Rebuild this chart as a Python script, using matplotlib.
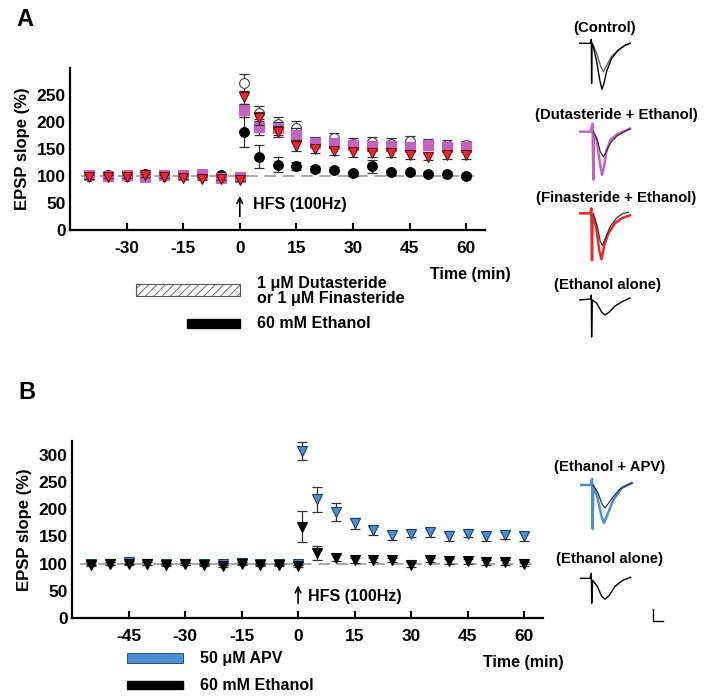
import matplotlib
matplotlib.use('Agg')
import matplotlib.pyplot as plt
from matplotlib.patches import Rectangle

plt.rcParams['font.family'] = ['Liberation Sans', 'DejaVu Sans']
plt.rcParams['font.weight'] = 'bold'
plt.rcParams['axes.unicode_minus'] = False
plt.rcParams['hatch.linewidth'] = 0.6

# ---- Panel A data (time in min, EPSP slope in %) ----
time_a = [-40, -35, -30, -25, -20, -15, -10, -5, 0,
          1, 5, 10, 15, 20, 25, 30, 35, 40, 45, 50, 55, 60]
control_a = [100, 100, 100, 101, 100, 101, 101, 100, 99,
             272, 216, 196, 189, 163, 170, 160, 163, 160, 165, 160, 158, 157]
control_err = [3, 3, 3, 3, 3, 3, 3, 3, 3,
               17, 14, 13, 12, 10, 10, 10, 9, 10, 9, 8, 8, 8]
ethanol_a = [100, 101, 100, 104, 101, 102, 101, 101, 98,
             182, 136, 121, 119, 113, 112, 105, 118, 107, 107, 104, 104, 100]
ethanol_a_err = [3, 3, 3, 3, 3, 3, 3, 3, 3,
                 28, 21, 14, 7, 6, 5, 5, 12, 5, 4, 4, 4, 4]
dutasteride = [101, 100, 101, 99, 101, 101, 103, 97, 98,
               222, 190, 188, 176, 161, 161, 157, 156, 156, 154, 157, 154, 154]
dutasteride_err = [3, 3, 3, 3, 3, 3, 3, 3, 3,
                   12, 15, 12, 12, 10, 10, 9, 9, 8, 8, 8, 8, 8]
finasteride = [98, 99, 99, 101, 99, 97, 95, 95, 93,
               246, 207, 182, 156, 150, 146, 144, 142, 142, 139, 136, 139, 138]
finasteride_err = [3, 3, 3, 3, 3, 3, 3, 3, 3,
                   12, 12, 10, 10, 8, 8, 8, 7, 7, 7, 7, 7, 7]

# ---- Panel B data ----
time_b = [-55, -50, -45, -40, -35, -30, -25, -20, -15, -10, -5, 0,
          1, 5, 10, 15, 20, 25, 30, 35, 40, 45, 50, 55, 60]
ethanol_b = [98, 100, 99, 100, 97, 99, 98, 96, 100, 98, 98, 96,
             168, 120, 111, 106, 106, 106, 98, 106, 104, 104, 102, 102, 99]
ethanol_b_err = [2] * 12 + [28, 13, 6, 5, 4, 4, 4, 4, 4, 4, 4, 4, 4]
apv = [100, 100, 102, 100, 99, 100, 99, 99, 101, 99, 99, 100,
       307, 218, 195, 174, 161, 152, 155, 157, 150, 155, 150, 152, 150]
apv_err = [2] * 12 + [16, 23, 16, 10, 8, 8, 7, 8, 9, 7, 8, 7, 8]

baseline_level = 100

# ---- example EPSP traces (time in ms, amplitude in mV) ----
ctrl_t = [0, 11.3, 12, 12.3, 12.7, 14, 17.3, 20.7, 22.7, 24.7, 27.3, 32.3, 39, 45.7, 50.7]
ctrl_v = [0, 0, 0.4, -4.0, 0, -0.3, -1.8, -3.8, -4.6, -4.0, -2.8, -1.5, -0.7, -0.2, 0]
ctrl_pre_t = [13, 17, 21, 24, 27, 32, 39, 46, 51]
ctrl_pre_v = [0, -0.9, -2.2, -2.85, -2.3, -1.35, -0.65, -0.2, 0]

dut_t = [0, 11.3, 13.3, 14, 14.7, 17.3, 20.7, 22.7, 24.7, 27.3, 31.3, 37.3, 44, 50.7]
dut_v = [0, 0, 0.8, -4.8, -0.2, -0.8, -3.2, -4.3, -3.5, -1.8, -0.8, -0.3, 0, 0.3]
dut_pre_t = [14, 18, 21, 24, 27, 32, 38, 45, 51]
dut_pre_v = [0, -0.8, -2.0, -2.5, -2.0, -1.0, -0.4, 0, 0.3]

fin_t = [0, 11.3, 12, 12.7, 13.3, 16.7, 20, 22.3, 24.7, 29, 35.7, 42.3, 50.7]
fin_v = [0, 0, 0.5, -4.7, -0.2, -1.3, -3.7, -4.6, -3.3, -2.0, -1.0, -0.5, -0.2]
fin_pre_t = [14, 18, 21, 23, 26, 31, 38, 44, 49]
fin_pre_v = [0, -1.3, -2.8, -3.2, -2.5, -1.3, -0.4, 0, 0.1]

eth_t = [0, 11.3, 12, 12.3, 13, 17.3, 22.3, 25.7, 30, 35.7, 42.3, 50.7]
eth_v = [0, 0.1, 0.5, -3.7, 0, -0.3, -1.2, -1.5, -1.2, -0.6, -0.2, 0.2]

apv_t = [0, 10.7, 12, 12.7, 13.3, 17.3, 21.7, 24, 27.3, 33.3, 41.7, 51.7]
apv_v = [0, 0, 0.6, -4.4, -0.1, -1.2, -3.2, -3.8, -3.0, -1.5, -0.3, 0.2]
apv_pre_t = [13, 18, 22, 25, 28, 33, 40, 47, 52]
apv_pre_v = [0, -0.8, -1.9, -2.3, -1.9, -1.2, -0.4, 0, 0.2]

ethb_t = [0, 10, 11.3, 11.7, 12.7, 17.3, 21.7, 25, 29.3, 35, 42.7, 50.7]
ethb_v = [0, 0, 0.5, -2.5, -0.2, -0.8, -1.8, -2.1, -1.7, -0.8, -0.2, 0.1]

scalebar_t = [73, 73, 83]
scalebar_v = [-3.1, -4.3, -4.3]

PURPLE = '#c462c4'
RED = '#f02626'
BLUE = '#4a8fd6'

W, H = 714, 700
fig = plt.figure(figsize=(W / 100, H / 100), dpi=100)


def axes_px(left, top, right, bottom):
    return fig.add_axes([left / W, 1 - bottom / H, (right - left) / W, (bottom - top) / H])


def text_px(x, y, s, **kw):
    kw.setdefault('fontsize', 11.5)
    kw.setdefault('fontweight', 'bold')
    fig.text(x / W, 1 - y / H, s, **kw)


def style_axes(ax):
    for side in ['top', 'right']:
        ax.spines[side].set_visible(False)
    for side in ['left', 'bottom']:
        ax.spines[side].set_linewidth(1.6)
    ax.tick_params(axis='x', direction='in', length=5, width=1.5, labelsize=12.5, pad=8)
    ax.tick_params(axis='y', length=0, labelsize=12.5, pad=3)
    for lab in ax.get_xticklabels() + ax.get_yticklabels():
        lab.set_fontweight('bold')
    ax.set_ylabel('EPSP slope (%)', fontsize=12, fontweight='bold', labelpad=5)


def series(ax, t, y, e, **kw):
    ax.errorbar(t, y, yerr=e, fmt='none', ecolor='#333333', elinewidth=0.9,
                capsize=3.5, capthick=0.9, zorder=kw.get('zorder', 3) - 0.5)
    ax.plot(t, y, linestyle='none', markeredgewidth=0.8, **kw)


# ================= Panel A =================
ax_a = axes_px(70, 68, 485, 230)
ax_a.set_xlim(-45, 65)
ax_a.set_ylim(0, 300)
ax_a.set_xticks([-30, -15, 0, 15, 30, 45, 60])
ax_a.set_yticks([0, 50, 100, 150, 200, 250])
ax_a.hlines(baseline_level, -42, 62, colors='#999999', linewidth=1.2,
            linestyles=(0, (7, 4)), zorder=1)
series(ax_a, time_a, control_a, control_err, marker='o', ms=7, mfc='white', mec='#444444', zorder=3)
series(ax_a, time_a, ethanol_a, ethanol_a_err, marker='o', ms=7, mfc='black', mec='black', zorder=4)
series(ax_a, time_a, dutasteride, dutasteride_err, marker='s', ms=6.5, mfc=PURPLE, mec=PURPLE, zorder=5)
series(ax_a, time_a, finasteride, finasteride_err, marker='v', ms=7, mfc=RED, mec='#661111', zorder=6)
style_axes(ax_a)
ax_a.annotate('', xy=(0, 68), xytext=(0, 20),
              arrowprops=dict(arrowstyle='->', lw=1.2, color='black'))
ax_a.text(3.5, 48, 'HFS (100Hz)', fontsize=11.5, fontweight='bold', va='center')
ax_a.add_patch(Rectangle((-27.5, -122), 27.5, 22, fill=False, hatch='////',
                         edgecolor='#555555', linewidth=0.8, clip_on=False))
ax_a.add_patch(Rectangle((-14, -181), 14, 17, facecolor='black', edgecolor='black',
                         clip_on=False))

text_px(470, 275, 'Time (min)', ha='center', va='center')
text_px(257, 291, '1 μM Dutasteride\nor 1 μM Finasteride', ha='left', va='center',
        linespacing=1.05)
text_px(257, 323, '60 mM Ethanol', ha='left', va='center')
text_px(25, 20, 'A', fontsize=17, ha='center', va='center')

# ================= Panel B =================
ax_b = axes_px(72, 441, 543, 618)
ax_b.set_xlim(-60, 65)
ax_b.set_ylim(0, 325)
ax_b.set_xticks([-45, -30, -15, 0, 15, 30, 45, 60])
ax_b.set_yticks([0, 50, 100, 150, 200, 250, 300])
ax_b.hlines(baseline_level, -58, 62, colors='#999999', linewidth=1.2,
            linestyles=(0, (7, 4)), zorder=1)
series(ax_b, time_b, apv, apv_err, marker='v', ms=7, mfc=BLUE, mec='#1d3f66', zorder=4)
series(ax_b, time_b, ethanol_b, ethanol_b_err, marker='v', ms=7, mfc='black', mec='black', zorder=5)
style_axes(ax_b)
ax_b.annotate('', xy=(0, 65), xytext=(0, 22),
              arrowprops=dict(arrowstyle='->', lw=1.2, color='black'))
ax_b.text(2.5, 40, 'HFS (100Hz)', fontsize=11.5, fontweight='bold', va='center')
ax_b.add_patch(Rectangle((-45.3, -83), 14.8, 19, facecolor=BLUE, edgecolor='#1d3f66',
                         linewidth=0.6, clip_on=False))
ax_b.add_patch(Rectangle((-45.3, -131), 14.8, 16, facecolor='black', edgecolor='black',
                         clip_on=False))

text_px(523, 663, 'Time (min)', ha='center', va='center')
text_px(200, 658, '50 μM APV', ha='left', va='center')
text_px(200, 686, '60 mM Ethanol', ha='left', va='center')
text_px(27, 392, 'B', fontsize=17, ha='center', va='center')


# ================= example traces =================
def trace_axes(x_left, base_y):
    ax = axes_px(x_left, base_y - 15, x_left + 60, base_y + 55)
    ax.set_xlim(0, 60)
    ax.set_ylim(-5.5, 1.5)
    ax.axis('off')
    return ax


tr = trace_axes(579.3, 43.3)
tr.plot(ctrl_pre_t, ctrl_pre_v, color='#666666', lw=1.0)
tr.plot(ctrl_t, ctrl_v, color='black', lw=1.0)
text_px(605, 28, '(Control)', fontsize=10.7, ha='center', va='center')

tr = trace_axes(579.3, 131.7)
tr.plot(dut_t, dut_v, color=PURPLE, lw=1.8)
tr.plot(dut_pre_t, dut_pre_v, color='#333333', lw=0.9)
text_px(616, 115, '(Dutasteride + Ethanol)', fontsize=10.7, ha='center', va='center')

tr = trace_axes(579.3, 213.3)
tr.plot(fin_t, fin_v, color=RED, lw=1.8)
tr.plot(fin_pre_t, fin_pre_v, color='#333333', lw=0.9)
text_px(616, 198, '(Finasteride + Ethanol)', fontsize=10.7, ha='center', va='center')

tr = trace_axes(579.3, 300)
tr.plot(eth_t, eth_v, color='black', lw=1.0)
text_px(608, 285, '(Ethanol alone)', fontsize=10.7, ha='center', va='center')

tr = trace_axes(580, 485)
tr.plot(apv_t, apv_v, color=BLUE, lw=1.8)
tr.plot(apv_pre_t, apv_pre_v, color='#333333', lw=0.9)
text_px(610, 467, '(Ethanol + APV)', fontsize=10.7, ha='center', va='center')

tr = trace_axes(580, 578.3)
tr.plot(ethb_t, ethb_v, color='black', lw=1.0)
tr.plot(scalebar_t, scalebar_v, color='black', lw=1.0, clip_on=False)
text_px(609, 559, '(Ethanol alone)', fontsize=10.7, ha='center', va='center')

fig.savefig('out.png', dpi=100)
